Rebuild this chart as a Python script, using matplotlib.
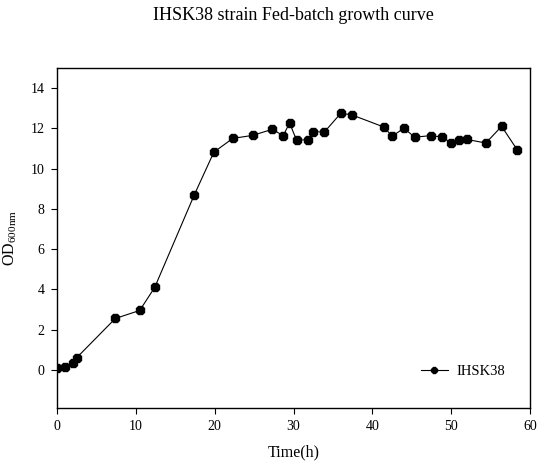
import matplotlib
matplotlib.use('Agg')
import matplotlib.pyplot as plt

# Datos
time_h = [0.0, 1.0, 2.0, 2.5, 7.4, 10.5, 12.4, 17.4, 19.9, 22.3, 24.8, 27.3,
          28.7, 29.5, 30.4, 31.8, 32.5, 33.9, 36.0, 37.4, 41.5, 42.5, 44.0,
          45.4, 47.4, 48.9, 50.0, 51.0, 52.0, 54.4, 56.4, 58.4]
od600 = [0.1, 0.15, 0.35, 0.6, 2.55, 2.95, 4.1, 8.68, 10.82, 11.5, 11.65, 11.95,
         11.64, 12.27, 11.4, 11.44, 11.84, 11.81, 12.75, 12.67, 12.06, 11.61, 12.0,
         11.56, 11.64, 11.56, 11.27, 11.44, 11.45, 11.27, 12.1, 10.92]
x_ticks = [0, 10, 20, 30, 40, 50, 60]
y_ticks = [0, 2, 4, 6, 8, 10, 12, 14]

plt.rcParams['font.family'] = ['Liberation Serif', 'DejaVu Serif']

fig = plt.figure(figsize=(5.59, 4.70), dpi=100)
ax = fig.add_axes([57 / 559, 1 - 408 / 470, (530 - 57) / 559, (408 - 68) / 470])

ax.plot(time_h, od600, color='black', linewidth=0.8, marker='8',
        markersize=6.5, markerfacecolor='black', markeredgecolor='black',
        label='IHSK38')

ax.set_xlim(0, 60)
ax.set_ylim(-1.9, 15.0)
ax.set_xticks(x_ticks)
ax.set_yticks(y_ticks)
ax.tick_params(direction='out', length=4, width=0.8, labelsize=10,
               top=False, right=False)
ax.tick_params(axis='x', pad=5)
ax.tick_params(axis='y', pad=5)
for s in ax.spines.values():
    s.set_linewidth(1.0)

ax.set_xlabel('Time(h)', fontsize=11.5, labelpad=8)
ax.set_ylabel('OD$_{\\mathregular{600nm}}$', fontsize=11.5, labelpad=8)

fig.text(0.525, 1 - 15 / 470, 'IHSK38 strain Fed-batch growth curve',
         ha='center', va='center', fontsize=13)

ax.legend(loc='lower right', frameon=False, fontsize=10.5, markerscale=0.75,
          bbox_to_anchor=(0.975, 0.05), handlelength=1.8, handletextpad=0.6)

fig.savefig('out.png', dpi=100)
